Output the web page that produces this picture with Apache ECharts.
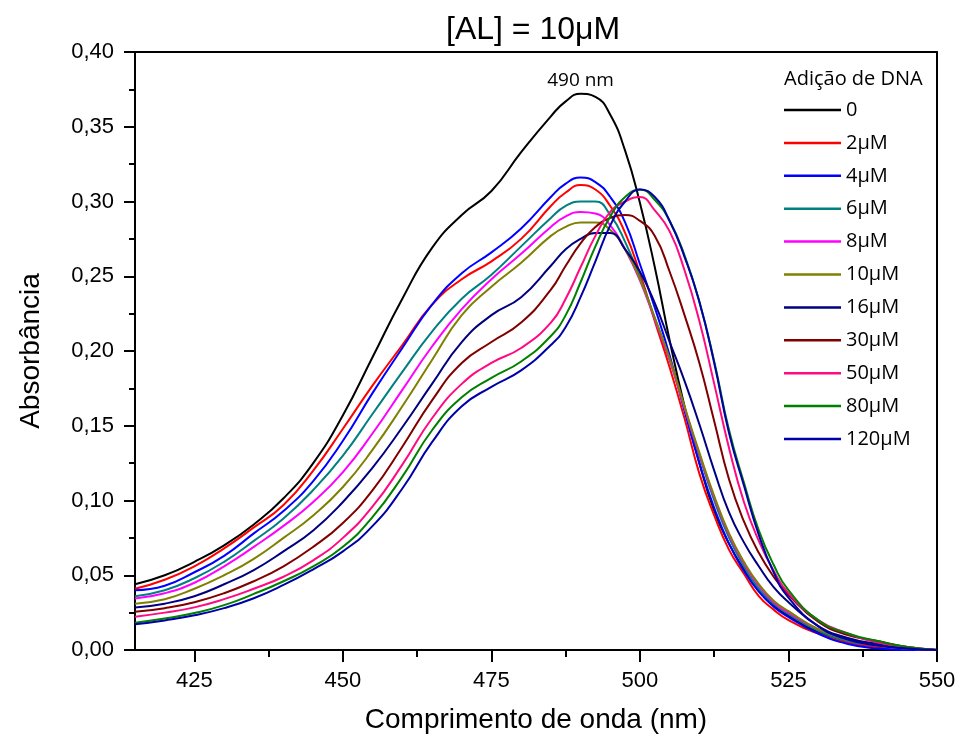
<!DOCTYPE html>
<html>
<head>
<meta charset="utf-8">
<script src="https://cdn.jsdelivr.net/npm/echarts@6/dist/echarts.min.js"></script>
<style>
html,body{margin:0;padding:0;background:#fff;}
#chart{width:960px;height:740px;}
</style>
</head>
<body>
<div id="chart"></div>
<script>
// ---- data ----
const wavelengths = [415,420,425,430,435,440,445,450,455,460,465,470,475,480,485,487.5,490,492.5,495,497.5,500,502.5,505,507.5,510,512.5,515,517.5,520,522.5,525,530,535,540,545,550];
const seriesNames = ['0','2μM','4μM','6μM','8μM','10μM','16μM','30μM','50μM','80μM','120μM'];
const abs0   = [0.044,0.050,0.059,0.070,0.084,0.1015,0.125,0.157,0.196,0.235,0.269,0.291,0.307,0.333,0.357,0.367,0.372,0.370,0.358,0.334,0.299,0.256,0.207,0.163,0.125,0.093,0.071,0.054,0.040,0.030,0.023,0.012,0.006,0.003,0.001,0.000];
const abs2   = [0.041,0.047,0.056,0.068,0.082,0.097,0.120,0.148,0.177,0.204,0.231,0.248,0.260,0.275,0.297,0.306,0.311,0.308,0.297,0.279,0.252,0.220,0.189,0.155,0.118,0.090,0.067,0.051,0.036,0.027,0.020,0.011,0.005,0.002,0.001,0.000];
const abs4   = [0.040,0.043,0.052,0.063,0.078,0.093,0.113,0.140,0.172,0.202,0.231,0.252,0.266,0.282,0.303,0.312,0.316,0.313,0.303,0.286,0.258,0.229,0.197,0.160,0.125,0.095,0.071,0.053,0.039,0.029,0.022,0.011,0.004,0.001,0.000,0.000];
const abs6   = [0.036,0.040,0.048,0.059,0.073,0.088,0.107,0.130,0.158,0.186,0.213,0.235,0.251,0.270,0.289,0.297,0.300,0.300,0.291,0.273,0.249,0.222,0.194,0.162,0.130,0.100,0.075,0.056,0.041,0.031,0.024,0.013,0.006,0.003,0.001,0.000];
const abs8   = [0.0345,0.038,0.045,0.056,0.069,0.083,0.099,0.119,0.145,0.174,0.203,0.228,0.248,0.265,0.283,0.290,0.293,0.292,0.284,0.268,0.247,0.221,0.194,0.162,0.131,0.102,0.077,0.058,0.043,0.032,0.025,0.014,0.007,0.003,0.001,0.000];
const abs10  = [0.031,0.034,0.041,0.050,0.061,0.075,0.090,0.109,0.134,0.163,0.194,0.224,0.243,0.259,0.277,0.283,0.286,0.286,0.281,0.268,0.248,0.222,0.195,0.163,0.132,0.103,0.078,0.059,0.044,0.033,0.026,0.014,0.007,0.003,0.001,0.000];
const abs16  = [0.0285,0.031,0.036,0.044,0.0535,0.066,0.080,0.099,0.122,0.149,0.178,0.206,0.224,0.236,0.257,0.268,0.275,0.279,0.279,0.268,0.253,0.232,0.206,0.180,0.151,0.120,0.092,0.072,0.056,0.042,0.032,0.016,0.008,0.004,0.001,0.000];
const abs30  = [0.0256,0.028,0.032,0.038,0.046,0.056,0.069,0.085,0.107,0.136,0.167,0.192,0.206,0.219,0.241,0.257,0.272,0.283,0.289,0.291,0.287,0.277,0.253,0.224,0.192,0.153,0.114,0.086,0.065,0.049,0.037,0.019,0.010,0.006,0.002,0.000];
const abs50  = [0.0223,0.025,0.0285,0.034,0.041,0.049,0.060,0.075,0.096,0.124,0.155,0.178,0.192,0.202,0.219,0.235,0.256,0.277,0.293,0.300,0.303,0.294,0.280,0.254,0.220,0.178,0.135,0.099,0.073,0.053,0.038,0.020,0.011,0.005,0.002,0.000];
const abs80  = [0.0183,0.021,0.0247,0.030,0.0375,0.046,0.056,0.069,0.089,0.116,0.147,0.169,0.182,0.193,0.210,0.224,0.246,0.270,0.290,0.303,0.308,0.301,0.287,0.264,0.233,0.193,0.147,0.112,0.080,0.057,0.040,0.020,0.011,0.006,0.002,0.000];
const abs120 = [0.0172,0.0198,0.0232,0.028,0.0346,0.0435,0.054,0.066,0.083,0.108,0.139,0.163,0.176,0.187,0.204,0.216,0.236,0.260,0.284,0.300,0.308,0.303,0.287,0.263,0.233,0.192,0.145,0.110,0.077,0.052,0.035,0.016,0.007,0.003,0.001,0.000];
const allValues = [abs0,abs2,abs4,abs6,abs8,abs10,abs16,abs30,abs50,abs80,abs120];
const xMajorTicks = [425,450,475,500,525,550];
const xMinorTicks = [437.5,462.5,487.5,512.5,537.5];
const peakWavelength = 490;
const peakValue = 0.372;
const peakLabel = '490 nm';

// ---- styles ----
const colors = ['#000000','#ff0000','#0000ff','#008080','#ff00ff','#808000','#000080','#800000','#ff0a80','#008000','#0000a8'];
const axisFont = 'Liberation Sans, Arial, sans-serif';
const legendFont = 'Open Sans, sans-serif';
const black = '#000';

const series = allValues.map((vals, k) => {
  const s = {
    name: seriesNames[k],
    type: 'line',
    xAxisIndex: 0,
    yAxisIndex: 0,
    data: wavelengths.map((w, i) => [w, vals[i]]),
    showSymbol: false,
    symbol: 'none',
    smooth: 0.5,
    lineStyle: { color: colors[k], width: 2 },
    itemStyle: { color: colors[k] },
    z: 10 + k,
    animation: false
  };
  if (k === 0) {
    s.markPoint = {
      symbol: 'circle',
      symbolSize: 0,
      data: [{ coord: [peakWavelength, peakValue] }],
      label: {
        show: true, formatter: peakLabel, position: 'top', distance: 4,
        color: black, fontFamily: legendFont, fontSize: 19
      },
      animation: false
    };
  }
  return s;
});

const chart = echarts.init(document.getElementById('chart'), null, { renderer: 'canvas' });
chart.setOption({
  animation: false,
  backgroundColor: '#fff',
  title: [
    { text: '[AL] = 10μM', left: 441, top: 9,
      textStyle: { fontFamily: axisFont, fontSize: 32, fontWeight: 'normal', color: black } },
    { text: 'Adição de DNA', left: 779, top: 64,
      textStyle: { fontFamily: legendFont, fontSize: 20, fontWeight: 'normal', color: black } }
  ],
  grid: { left: 135, right: 23, top: 52, bottom: 90, containLabel: false },
  legend: {
    orient: 'vertical', left: 779, top: 94,
    icon: 'rect', itemWidth: 57, itemHeight: 2.5, itemGap: 10.9,
    textStyle: { fontFamily: legendFont, fontSize: 20, color: black, lineHeight: 22 },
    data: seriesNames,
    selectedMode: false
  },
  xAxis: [
    {
      type: 'value', min: 415, max: 550, position: 'bottom',
      name: 'Comprimento de onda (nm)', nameLocation: 'middle', nameGap: 56,
      nameTextStyle: { fontFamily: axisFont, fontSize: 28, color: black },
      axisLine: { show: true, onZero: false, lineStyle: { color: black, width: 2 } },
      axisTick: { show: true, inside: false, length: 12, customValues: xMajorTicks, lineStyle: { color: black, width: 2 } },
      axisLabel: { show: true, customValues: xMajorTicks, margin: 20, fontFamily: axisFont, fontSize: 22, color: black },
      splitLine: { show: false }
    },
    {
      type: 'value', min: 415, max: 550, position: 'bottom',
      axisLine: { show: false, onZero: false },
      axisTick: { show: true, inside: false, length: 7, customValues: xMinorTicks, lineStyle: { color: black, width: 2 } },
      axisLabel: { show: false },
      splitLine: { show: false }
    },
    {
      type: 'value', min: 415, max: 550, position: 'top',
      axisLine: { show: true, onZero: false, lineStyle: { color: black, width: 2 } },
      axisTick: { show: false }, axisLabel: { show: false }, splitLine: { show: false }
    }
  ],
  yAxis: [
    {
      type: 'value', min: 0, max: 0.4, interval: 0.05, position: 'left',
      name: 'Absorbância', nameLocation: 'middle', nameGap: 90,
      nameTextStyle: { fontFamily: axisFont, fontSize: 28, color: black },
      axisLine: { show: true, onZero: false, lineStyle: { color: black, width: 2 } },
      axisTick: { show: true, inside: false, length: 11, lineStyle: { color: black, width: 2 } },
      minorTick: { show: true, splitNumber: 2, length: 6, lineStyle: { color: black, width: 2 } },
      axisLabel: { margin: 21, fontFamily: axisFont, fontSize: 22, color: black,
        formatter: v => v.toFixed(2).replace('.', ',') },
      splitLine: { show: false }, minorSplitLine: { show: false }
    },
    {
      type: 'value', min: 0, max: 0.4, position: 'right',
      axisLine: { show: true, onZero: false, lineStyle: { color: black, width: 2 } },
      axisTick: { show: false }, axisLabel: { show: false }, splitLine: { show: false }
    }
  ],
  series: series
});
</script>
</body>
</html>
